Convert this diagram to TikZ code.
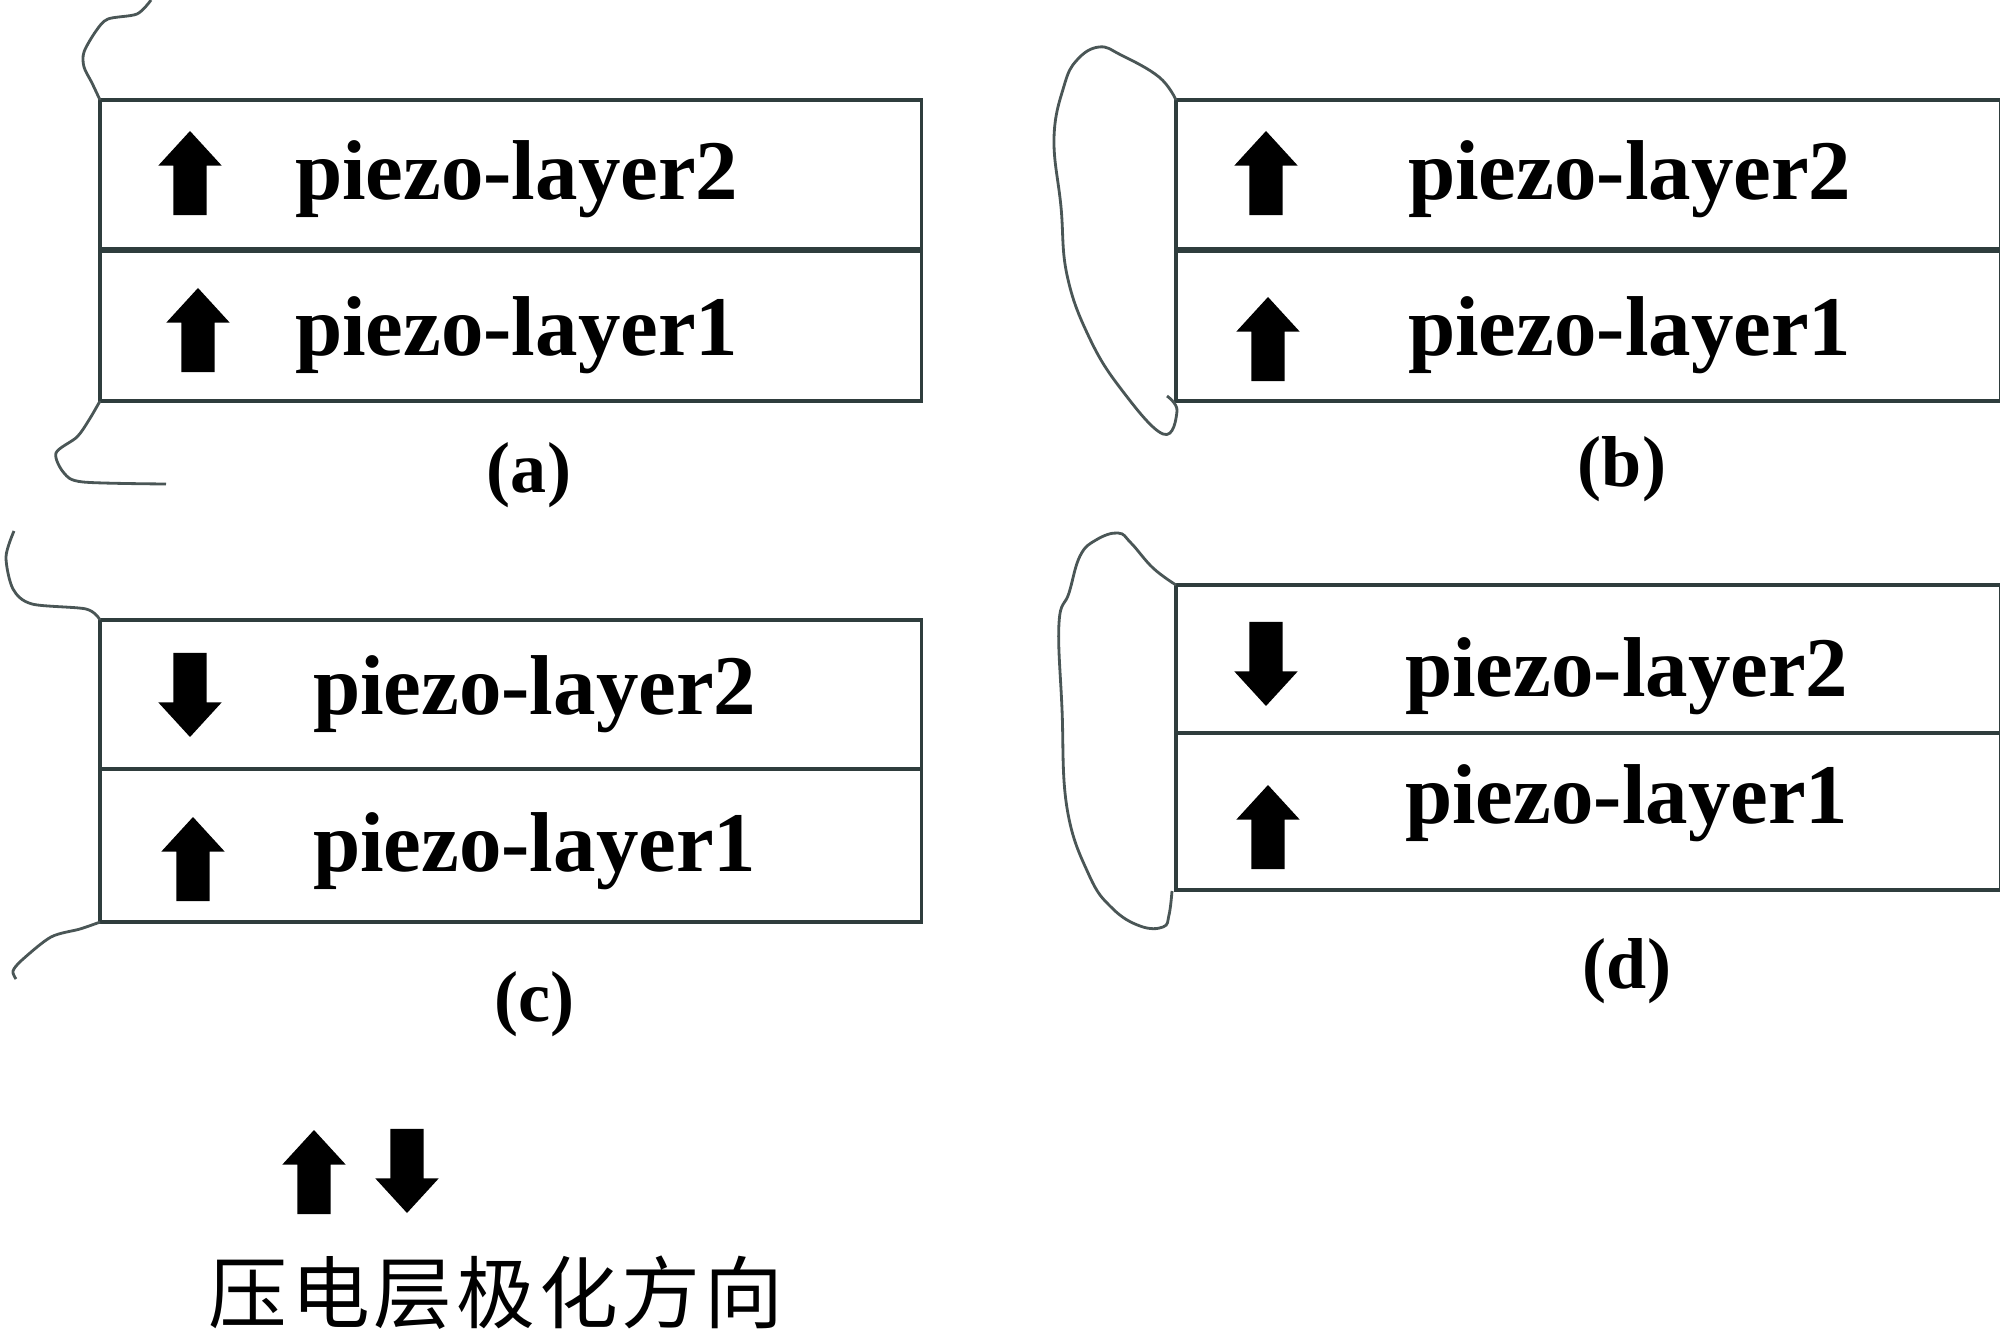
\documentclass[tikz,border=0pt]{standalone}
\usepackage{fontspec}
\setmainfont{Liberation Serif}
\newfontfamily\cjk[LetterSpace=5]{Noto Sans CJK SC}
\usetikzlibrary{shapes.arrows,positioning}
\definecolor{boxColor}{HTML}{2F3D3D}
\definecolor{wireColor}{HTML}{4A5656}
\tikzset{
	layerbox/.style={draw=boxColor,line width=1pt,minimum width=8.21cm,outer sep=0,inner sep=0,anchor=north west},
	edgebox/.style={layerbox,minimum width=8.24cm},
	midline/.style={draw=boxColor,line width=1.7pt},
	wire/.style={draw=wireColor,line width=0.8pt},
	polar/.style={fill=black,draw=none,single arrow,single arrow tip angle=85,single arrow head extend=0.15cm,
		single arrow head indent=0,minimum height=0.84cm,inner xsep=0,inner ysep=0.16cm,outer sep=0,anchor=tip},
	up/.style={polar,rotate=90},
	down/.style={polar,rotate=-90},
	layername/.style={font=\fontsize{24.15}{28}\selectfont\bfseries,inner sep=0,outer sep=0,anchor=base west},
	caption/.style={font=\fontsize{20.5}{26}\selectfont\bfseries,inner sep=0,outer sep=0}
}
\begin{document}
\begin{tikzpicture}[x=0.01cm,y=-0.01cm]
	\useasboundingbox (0,0) rectangle (2000,1331);
	
	\node[layerbox,minimum height=1.5cm] (a2) at (100,100) {};
	\node[layerbox,minimum height=1.51cm] (a1) at (100,250) {};
	\draw[midline] (a2.south west) -- (a2.south east);
	\node[up] (ua2) at (190,131) {};
	\node[up] (ua1) at (198,288) {};
	\node[layername] (ta2) at (295,200) {piezo-layer2};
	\node[layername] (ta1) at (295,356) {piezo-layer1};
	\node[caption] (capa) at (529,475) {(a)};
	\draw[wire] plot[smooth] coordinates {(151,0) (137,14) (108,19) (96,31) (84,52) (84,67) (92,83) (a2.north west)};
	\draw[wire] plot[smooth] coordinates {(a1.south west) (89,420) (77,437) (56,453) (64,473) (83,482) (166,484)};
	
	\node[edgebox,minimum height=1.5cm] (b2) at (1176,100) {};
	\node[edgebox,minimum height=1.51cm] (b1) at (1176,250) {};
	\draw[midline] (b2.south west) -- (b2.south east);
	\node[up] (ub2) at (1266,131) {};
	\node[up] (ub1) at (1268,297) {};
	\node[layername] (tb2) at (1408,200) {piezo-layer2};
	\node[layername] (tb1) at (1408,356) {piezo-layer1};
	\node[caption] (capb) at (1622,469) {(b)};
	\draw[wire] plot[smooth,tension=0.7] coordinates {(b2.north west) (1159,77) (1121,55) (1099,47) (1077,60) (1064,86) (1054,138)
		(1061,207) (1067,275) (1089,337) (1121,389) (1163,434) (1177,411) (1167,396)};
	
	\node[layerbox,minimum height=1.49cm] (c2) at (100,620) {};
	\node[layerbox,minimum height=1.53cm] (c1) at (100,769) {};
	\node[down] (uc2) at (190,737) {};
	\node[up] (uc1) at (193,817) {};
	\node[layername] (tc2) at (313,715) {piezo-layer2};
	\node[layername] (tc1) at (313,871) {piezo-layer1};
	\node[caption] (capc) at (534,1004) {(c)};
	\draw[wire] plot[smooth] coordinates {(14,531) (6,557) (13,589) (32,604) (86,609) (c2.north west)};
	\draw[wire] plot[smooth] coordinates {(c1.south west) (80,929) (51,937) (22,960) (13,971) (16,979)};
	
	\node[edgebox,minimum height=1.48cm] (d2) at (1176,585) {};
	\node[edgebox,minimum height=1.57cm] (d1) at (1176,733) {};
	\node[down] (ud2) at (1266,706) {};
	\node[up] (ud1) at (1268,785) {};
	\node[layername] (td2) at (1405,697) {piezo-layer2};
	\node[layername] (td1) at (1405,823) {piezo-layer1};
	\node[caption] (capd) at (1627,971) {(d)};
	\draw[wire] plot[smooth,tension=0.7] coordinates {(d2.north west) (1153,568) (1131,543) (1118,533) (1096,540) (1080,556) (1069,593)
		(1059,623) (1062,709) (1067,808) (1089,875) (1112,908) (1140,926) (1163,927) (1169,915) (1172,891)};
	
	\node[up] (uleg) at (314,1130) {};
	\node[down] (dleg) at (407,1213) {};
	\node[inner sep=0,font=\fontsize{22.4}{27}\selectfont\cjk] (tleg) at (496,1293) {压电层极化方向};
\end{tikzpicture}
\end{document}
